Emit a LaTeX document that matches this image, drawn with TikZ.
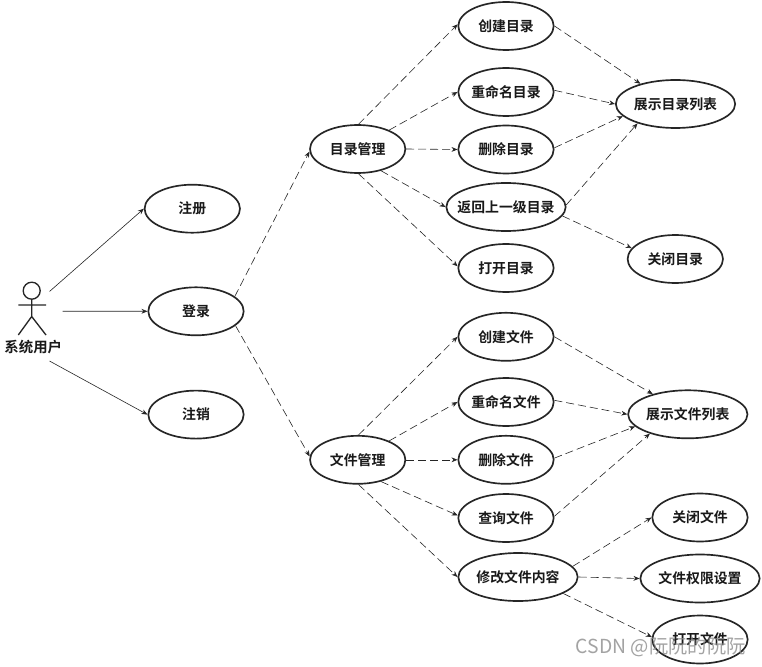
\documentclass[tikz,border=0pt]{standalone}
\usepackage{fontspec}
\setmainfont{Noto Sans CJK SC Bold}
\newfontfamily\wmfont{Noto Sans CJK SC}
\usetikzlibrary{shapes.geometric,arrows.meta}
\newcommand{\lbl}[1]{\makebox[0pt][c]{#1}}
\tikzset{
 uc/.style={ellipse,draw=black!85,line width=1.25pt,fill=white,minimum width=71.5pt,minimum height=36pt,inner sep=0pt,font=\fontsize{10.4pt}{12pt}\selectfont,text=black!90},
 ucw/.style={uc,minimum width=89.5pt},
 ucm/.style={uc,minimum width=89.5pt},
 dep/.style={draw=black!85,line width=0.45pt,dash pattern=on 6pt off 3pt,-{Stealth[length=4.5pt,width=3.6pt]}},
 assoc/.style={draw=black!85,line width=0.45pt,-{Stealth[length=4.5pt,width=3.6pt]}},
 actorline/.style={draw=black!85,line width=1pt},
}
\begin{document}
\begin{tikzpicture}[x=0.75pt,y=-0.75pt]
\useasboundingbox (0,0) rectangle (762,666);
\fill[white] (0,0) rectangle (762,666);
% actor
\coordinate (head) at (31.7,290.7);
\draw[actorline] (head) circle (8.5);
\coordinate (neck) at (31.7,299.2);
\coordinate (hip) at (31.7,316.5);
\coordinate (armL) at (18.3,305);
\coordinate (armR) at (46,305);
\coordinate (footL) at (18.3,335);
\coordinate (footR) at (46,335);
\draw[actorline] (neck) -- (hip) (armL) -- (armR) (footL) -- (hip) -- (footR);
\node[font=\fontsize{10.8pt}{12pt}\selectfont,inner sep=0pt,text=black!90] (actorlabel) at (33.3,347.5) {系统用户};
\coordinate (a1) at (49.5,291.5);
\coordinate (a2) at (62.5,311.2);
\coordinate (a3) at (49.5,361);
% nodes
\node[uc] (zc) at (192.3,208.7) {\lbl{注册}};
\node[uc] (dl) at (196,311.3) {\lbl{登录}};
\node[uc] (zx) at (196,414.6) {\lbl{注销}};
\node[uc] (mg) at (357.7,149) {\lbl{目录管理}};
\node[uc] (wg) at (357.7,459.8) {\lbl{文件管理}};
\node[uc] (m1) at (506,26) {\lbl{创建目录}};
\node[uc] (m2) at (506,92) {\lbl{重命名目录}};
\node[uc] (m3) at (506,149.5) {\lbl{删除目录}};
\node[ucw] (m4) at (506,207) {\lbl{返回上一级目录}};
\node[uc] (m5) at (506,268) {\lbl{打开目录}};
\node[ucm] (ml) at (675.5,104) {\lbl{展示目录列表}};
\node[uc] (mc) at (675.3,259) {\lbl{关闭目录}};
\node[uc] (f1) at (506,336.8) {\lbl{创建文件}};
\node[uc] (f2) at (506,402) {\lbl{重命名文件}};
\node[uc] (f3) at (506,459.8) {\lbl{删除文件}};
\node[uc] (f4) at (506,518) {\lbl{查询文件}};
\node[ucw] (f5) at (518,577) {\lbl{修改文件内容}};
\node[ucm] (fl) at (687.8,414.3) {\lbl{展示文件列表}};
\node[uc] (g1) at (700,517.5) {\lbl{关闭文件}};
\node[ucw] (g2) at (700,578.5) {\lbl{文件权限设置}};
\node[uc] (g3) at (700,639.5) {\lbl{打开文件}};
% connectors
\draw[assoc] (a1) -- (zc.180);
\draw[assoc] (a2) -- (dl.180);
\draw[assoc] (a3) -- (zx.180);
\draw[dep] (dl.21) -- (mg.183);
\draw[dep] (dl.-20) -- (wg.176);
\draw[dep] (mg.88) -- (m1.178);
\draw[dep] (mg.31) -- (m2.180);
\draw[dep] (mg.0) -- (m3.180);
\draw[dep] (mg.-43) -- (m4.180);
\draw[dep] (mg.-88) -- (m5.178);
\draw[dep] (m1.0) -- (ml.150);
\draw[dep] (m2.2) -- (ml.180);
\draw[dep] (m3.2) -- (ml.193);
\draw[dep] (m4.2) -- (ml.207);
\draw[dep] (m4.-9) -- (mc.166);
\draw[dep] (wg.88) -- (f1.180);
\draw[dep] (wg.31) -- (f2.180);
\draw[dep] (wg.0) -- (f3.180);
\draw[dep] (wg.-43) -- (f4.177);
\draw[dep] (wg.-88) -- (f5.180);
\draw[dep] (f1.0) -- (fl.150);
\draw[dep] (f2.2) -- (fl.180);
\draw[dep] (f3.2) -- (fl.193);
\draw[dep] (f4.2) -- (fl.207);
\draw[dep] (f5.11) -- (g1.180);
\draw[dep] (f5.0) -- (g2.180);
\draw[dep] (f5.-20) -- (g3.177);
% watermark
\node[font=\wmfont\fontsize{14.5pt}{16pt}\selectfont,text=black!45,inner sep=0pt,anchor=west,opacity=.8] (wm) at (575.5,647) {CSDN @阮阮的阮阮};
\end{tikzpicture}
\end{document}
